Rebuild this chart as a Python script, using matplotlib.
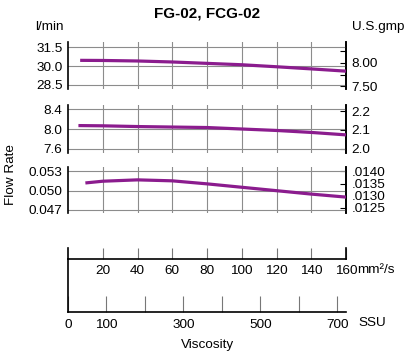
import matplotlib.pyplot as plt

plt.rcParams['font.family'] = ['Liberation Sans', 'DejaVu Sans']

# flow rate vs viscosity (mm2/s)
visc1 = [7, 20, 40, 60, 80, 100, 120, 140, 160]
flow1 = [30.46, 30.45, 30.41, 30.33, 30.22, 30.11, 29.95, 29.78, 29.60]
visc2 = [6, 20, 40, 60, 80, 100, 120, 140, 160]
flow2 = [8.07, 8.065, 8.05, 8.04, 8.03, 8.00, 7.97, 7.93, 7.88]
visc3 = [10, 20, 40, 60, 80, 100, 120, 140, 160]
flow3 = [0.0512, 0.05147, 0.05168, 0.05153, 0.05106, 0.05053, 0.0500, 0.04947, 0.0490]

left_ticks = [[28.5, 30.0, 31.5], [7.6, 8.0, 8.4], [0.047, 0.050, 0.053]]
left_fmt = ['{:.1f}', '{:.1f}', '{:.3f}']
right_ticks = [[7.5, 8.0], [2.0, 2.1, 2.2], [0.0125, 0.0130, 0.0135, 0.0140]]
right_labels = [['7.50', '8.00'], ['2.0', '2.1', '2.2'], ['.0125', '.0130', '.0135', '.0140']]
right_minor = [[7.75, 8.25], [], []]
gpm_factor = [3.785, 3.8, 3.785]

mm_ticks = [20, 40, 60, 80, 100, 120, 140, 160]
ssu_ticks = [0, 100, 200, 300, 400, 500, 600, 700]
ssu_labels = ['0', '100', '', '300', '', '500', '', '700']

W, H = 411, 356
purple = '#8B1C8E'
fs = 9.7


def box(x0, y0, x1, y1):
    return [x0 / W, 1 - y1 / H, (x1 - x0) / W, (y1 - y0) / H]


fig = plt.figure(figsize=(W / 100, H / 100), dpi=100)

panels = [(box(68, 42, 346, 89), visc1, flow1, (28.18, 31.92)),
          (box(68, 105, 346, 153), visc2, flow2, (7.51, 8.49)),
          (box(68, 167, 346, 213), visc3, flow3, (0.04653, 0.05368))]

for i, (rect, vx, vy, ylim) in enumerate(panels):
    ax = fig.add_axes(rect)
    ax.plot(vx, vy, color=purple, lw=2.3, solid_capstyle='butt', zorder=3)
    ax.set_xlim(0, 160)
    ax.set_ylim(*ylim)
    for v in range(20, 160, 20):
        ax.axvline(v, color='#8c8c8c', lw=0.8, zorder=1)
    for t in left_ticks[i]:
        ax.axhline(t, color='#8c8c8c', lw=0.8, zorder=1)
    ax.set_xticks([])
    ax.set_yticks(left_ticks[i])
    ax.set_yticklabels([left_fmt[i].format(t) for t in left_ticks[i]])
    ax.tick_params(axis='y', length=0, pad=4, labelsize=fs)
    for s in ['top', 'bottom']:
        ax.spines[s].set_visible(False)
    for s in ['left', 'right']:
        ax.spines[s].set_linewidth(1.2)
    f = gpm_factor[i]
    sec = ax.secondary_yaxis('right', functions=(lambda x, f=f: x / f, lambda x, f=f: x * f))
    sec.set_yticks(right_ticks[i])
    sec.set_yticklabels(right_labels[i])
    sec.set_yticks(right_minor[i], minor=True)
    sec.tick_params(axis='y', which='both', direction='in', length=4.5, width=0.8, pad=4, labelsize=fs)
    sec.spines['right'].set_linewidth(1.2)

# viscosity scales
ax_mm = fig.add_axes(box(68, 248, 346, 259))
ax_mm.set_xlim(0, 160)
ax_mm.set_ylim(0, 1)
ax_mm.set_yticks([])
ax_mm.set_xticks(mm_ticks)
ax_mm.set_xticklabels([str(t) for t in mm_ticks])
ax_mm.tick_params(axis='x', direction='in', length=7.9, width=0.8, color='#777777', pad=4, labelsize=fs)
ax_mm.spines['top'].set_visible(False)
for s in ['left', 'right', 'bottom']:
    ax_mm.spines[s].set_linewidth(1.2)
ax_mm.patch.set_alpha(0)

ax_ssu = fig.add_axes(box(68, 259, 346, 312))
ax_ssu.set_xlim(0, 723)
ax_ssu.set_ylim(0, 1)
ax_ssu.set_yticks([])
ax_ssu.set_xticks(ssu_ticks)
ax_ssu.set_xticklabels(ssu_labels)
ax_ssu.tick_params(axis='x', direction='in', length=11.5, width=0.8, color='#777777', pad=5, labelsize=fs)
ax_ssu.spines['top'].set_visible(False)
ax_ssu.spines['right'].set_visible(False)
for s in ['left', 'bottom']:
    ax_ssu.spines[s].set_linewidth(1.2)
ax_ssu.patch.set_alpha(0)

fig.text(207 / W, 1 - 13 / H, 'FG-02, FCG-02', ha='center', va='center', fontsize=11, fontweight='bold')
fig.text(35 / W, 1 - 27 / H, 'l/min', ha='left', va='center', fontsize=fs)
fig.text(352 / W, 1 - 27 / H, 'U.S.gmp', ha='left', va='center', fontsize=fs)
fig.text(11 / W, 1 - 175 / H, 'Flow Rate', ha='center', va='center', rotation=90, fontsize=fs)
fig.text(357 / W, 1 - 270 / H, 'mm²/s', ha='left', va='center', fontsize=fs)
fig.text(358 / W, 1 - 323 / H, 'SSU', ha='left', va='center', fontsize=fs)
fig.text(207 / W, 1 - 345 / H, 'Viscosity', ha='center', va='center', fontsize=fs)

fig.savefig('out.png', dpi=100)
